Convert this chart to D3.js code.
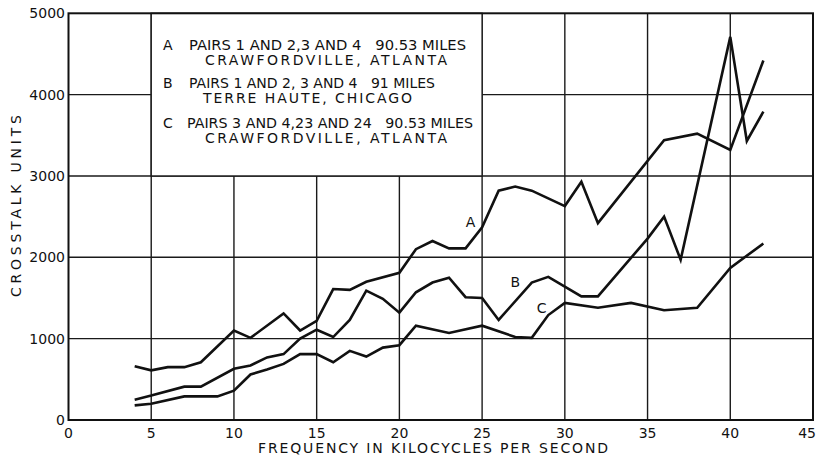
<!DOCTYPE html>
<html>
<head>
<meta charset="utf-8">
<script src="https://cdn.jsdelivr.net/npm/d3@7/dist/d3.min.js"></script>
<style>
  html, body { margin: 0; padding: 0; background: #fff; }
  svg { display: block; }
  text { font-family: "DejaVu Sans", sans-serif; fill: #111; white-space: pre; }
</style>
</head>
<body>
<svg id="chart" width="818" height="457"></svg>
<script>
// ---- data ----
const xTicks = [0, 5, 10, 15, 20, 25, 30, 35, 40, 45];
const yTicks = [0, 1000, 2000, 3000, 4000, 5000];

const freqA = [4,5,6,7,8,10,11,13,14,15,16,17,18,20,21,22,23,24,25,26,27,28,30,31,32,36,38,40,42];
const valA  = [660,610,650,650,710,1100,1010,1310,1100,1220,1610,1600,1700,1810,2100,2200,2110,2110,2370,2820,2870,2820,2630,2930,2420,3440,3520,3320,4420];

const freqB = [4,5,7,8,10,11,12,13,14,15,16,17,18,19,20,21,22,23,24,25,26,28,29,31,32,35,36,37,40,41,42];
const valB  = [250,300,410,410,630,670,770,810,1000,1110,1020,1230,1590,1490,1320,1570,1690,1750,1510,1500,1230,1690,1760,1520,1520,2230,2500,1970,4710,3430,3790];

const freqC = [4,5,7,9,10,11,12,13,14,15,16,17,18,19,20,21,23,25,27,28,29,30,32,34,36,38,40,42];
const valC  = [180,200,290,290,360,560,620,690,810,810,710,850,780,890,920,1160,1070,1160,1020,1010,1290,1440,1380,1440,1350,1380,1870,2170];

const seriesNames = ["A", "B", "C"];
const legendLines = [
  ["A", "PAIRS 1 AND 2,3 AND 4   90.53 MILES", "CRAWFORDVILLE, ATLANTA"],
  ["B", "PAIRS 1 AND 2, 3 AND 4   91 MILES", "TERRE HAUTE, CHICAGO"],
  ["C", "PAIRS 3 AND 4,23 AND 24   90.53 MILES", "CRAWFORDVILLE, ATLANTA"]
];
const xTitle = "FREQUENCY IN KILOCYCLES PER SECOND";
const yTitle = "CROSSTALK UNITS";

// ---- drawing ----
const svg = d3.select("#chart");
const x = d3.scaleLinear().domain([0, 45]).range([68.5, 813]);
const y = d3.scaleLinear().domain([0, 5000]).range([420, 13.3]);

const g = svg.append("g");

// grid
g.selectAll("line.vg").data(xTicks.slice(1, -1)).enter().append("line")
  .attr("x1", d => x(d)).attr("x2", d => x(d))
  .attr("y1", y(5000)).attr("y2", y(0))
  .attr("stroke", "#1a1a1a").attr("stroke-width", 1.4);
g.selectAll("line.hg").data(yTicks.slice(1, -1)).enter().append("line")
  .attr("x1", x(0)).attr("x2", x(45))
  .attr("y1", d => y(d)).attr("y2", d => y(d))
  .attr("stroke", "#1a1a1a").attr("stroke-width", 1.4);

// legend box (covers grid from 5..25 kc, 3000..5000 units)
g.append("rect")
  .attr("x", x(5)).attr("y", y(5000))
  .attr("width", x(25) - x(5)).attr("height", y(3000) - y(5000))
  .attr("fill", "#fff").attr("stroke", "#1a1a1a").attr("stroke-width", 1.4);

// frame
g.append("rect")
  .attr("x", x(0)).attr("y", y(5000))
  .attr("width", x(45) - x(0)).attr("height", y(0) - y(5000))
  .attr("fill", "none").attr("stroke", "#111").attr("stroke-width", 2);

// tick labels
const lastTick = xTicks[xTicks.length - 1];
g.selectAll("text.xt").data(xTicks).enter().append("text")
  .attr("x", d => d === lastTick ? 816 : x(d)).attr("y", 438)
  .attr("text-anchor", d => d === lastTick ? "end" : "middle").attr("font-size", 14)
  .text(d => d);
g.selectAll("text.yt").data(yTicks).enter().append("text")
  .attr("x", 65).attr("y", d => y(d) + 5)
  .attr("text-anchor", "end").attr("font-size", 14)
  .text(d => d);

// axis titles
g.append("text").attr("x", 258).attr("y", 453)
  .attr("font-size", 14).attr("textLength", 350).attr("lengthAdjust", "spacing")
  .text(xTitle);
g.append("text")
  .attr("transform", "translate(21,297) rotate(-90)")
  .attr("font-size", 14).attr("textLength", 182).attr("lengthAdjust", "spacing")
  .text(yTitle);

// curves
const series = [
  freqA.map((f, i) => [f, valA[i]]),
  freqB.map((f, i) => [f, valB[i]]),
  freqC.map((f, i) => [f, valC[i]])
];
const line = d3.line().x(d => x(d[0])).y(d => y(d[1]));
g.selectAll("path.curve").data(series).enter().append("path")
  .attr("d", line)
  .attr("fill", "none").attr("stroke", "#111")
  .attr("stroke-width", 2.6).attr("stroke-linejoin", "miter").attr("stroke-linecap", "butt");

// curve labels
const curveLabelPos = [[24.3, 2440], [27.0, 1700], [28.6, 1375]];
g.selectAll("text.cl").data(seriesNames).enter().append("text")
  .attr("x", (d, i) => x(curveLabelPos[i][0]))
  .attr("y", (d, i) => y(curveLabelPos[i][1]) + 5)
  .attr("text-anchor", "middle").attr("font-size", 14)
  .text(d => d);

// legend text
const rowBase = [50, 88, 128];
const line1Len = [277, 246, 286];
const line1X = [189, 189, 187];
const line2X = [205, 203, 205];
const line2Len = [242, 209, 242];
legendLines.forEach((L, i) => {
  g.append("text").attr("x", 163).attr("y", rowBase[i]).attr("font-size", 14).text(L[0]);
  g.append("text").attr("x", line1X[i]).attr("y", rowBase[i]).attr("font-size", 14)
    .attr("xml:space", "preserve")
    .attr("textLength", line1Len[i]).attr("lengthAdjust", "spacingAndGlyphs").text(L[1]);
  g.append("text").attr("x", line2X[i]).attr("y", rowBase[i] + 15).attr("font-size", 14)
    .attr("textLength", line2Len[i]).attr("lengthAdjust", "spacing").text(L[2]);
});
</script>
</body>
</html>
